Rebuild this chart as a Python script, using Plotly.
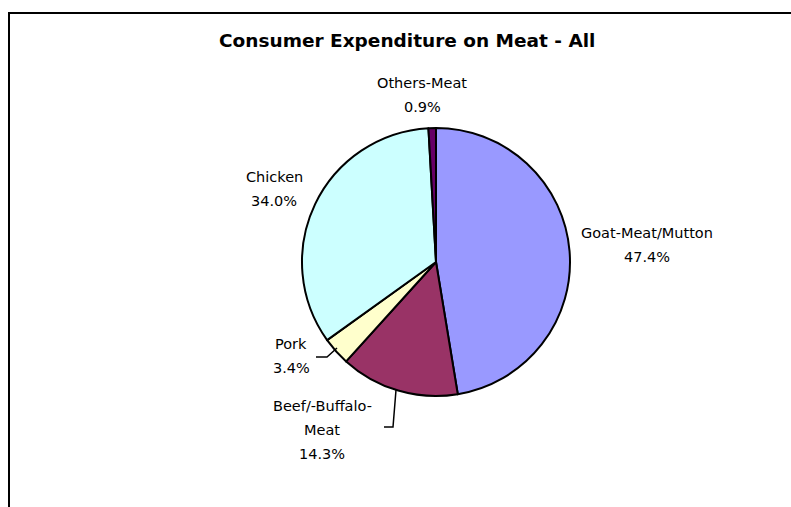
import plotly.graph_objects as go

W, H = 791, 507

categories = ["Goat-Meat/Mutton", "Beef/-Buffalo-Meat", "Pork", "Chicken", "Others-Meat"]
values = [47.4, 14.3, 3.4, 34.0, 0.9]
colors = ["#9999FF", "#993366", "#FFFFCC", "#CCFFFF", "#660066"]

# display text lines for each label (label may wrap)
label_lines = {
    "Goat-Meat/Mutton": ["Goat-Meat/Mutton"],
    "Beef/-Buffalo-Meat": ["Beef/-Buffalo-", "Meat"],
    "Pork": ["Pork"],
    "Chicken": ["Chicken"],
    "Others-Meat": ["Others-Meat"],
}
# label block centres in pixels (x, y of first line)
label_pos = {
    "Goat-Meat/Mutton": (647, 233),
    "Beef/-Buffalo-Meat": (322, 406),
    "Pork": (291, 344),
    "Chicken": (274, 177),
    "Others-Meat": (422, 83),
}

def px(x):
    return x / W

def py(y):
    return 1 - y / H

cx, cy, r = 436, 262, 134

fig = go.Figure(go.Pie(
    labels=categories,
    values=values,
    sort=False,
    direction="clockwise",
    rotation=0,
    textinfo="none",
    hoverinfo="label+percent",
    marker=dict(colors=colors, line=dict(color="black", width=2)),
    domain=dict(x=[px(cx - r), px(cx + r)], y=[py(cy + r), py(cy - r)]),
    showlegend=False,
))

font = dict(family="DejaVu Sans, sans-serif", size=14.5, color="black")
annotations = []
line_h = 24
for cat, val in zip(categories, values):
    x0, y0 = label_pos[cat]
    lines = label_lines[cat] + [f"{val:.1f}%"]
    for i, t in enumerate(lines):
        annotations.append(dict(
            x=px(x0), y=py(y0 + i * line_h), xref="paper", yref="paper",
            text=t, showarrow=False, font=font, xanchor="center", yanchor="middle",
        ))

annotations.append(dict(
    x=px(407), y=py(41), xref="paper", yref="paper",
    text="<b>Consumer Expenditure on Meat - All</b>", showarrow=False,
    font=dict(family="DejaVu Sans, sans-serif", size=18.5, color="black"),
    xanchor="center", yanchor="middle",
))

def path(points):
    return "M " + " L ".join(f"{px(x)},{py(y)}" for x, y in points)

shapes = [
    # frame (left + top)
    dict(type="path", xref="paper", yref="paper",
         path=path([(9, 507), (9, 13), (791, 13)]),
         line=dict(color="black", width=2)),
    # leader lines
    dict(type="path", xref="paper", yref="paper",
         path=path([(316, 357), (327, 357), (337, 348)]),
         line=dict(color="black", width=1.5)),
    dict(type="path", xref="paper", yref="paper",
         path=path([(384, 427), (393, 427), (396, 390)]),
         line=dict(color="black", width=1.5)),
]

fig.update_layout(
    width=W, height=H,
    margin=dict(l=0, r=0, t=0, b=0),
    paper_bgcolor="white", plot_bgcolor="white",
    annotations=annotations, shapes=shapes,
)

fig.write_html(
    "out.html",
    config={"displayModeBar": False},
    post_script="document.body.style.margin='0';document.body.style.overflow='hidden';",
)
